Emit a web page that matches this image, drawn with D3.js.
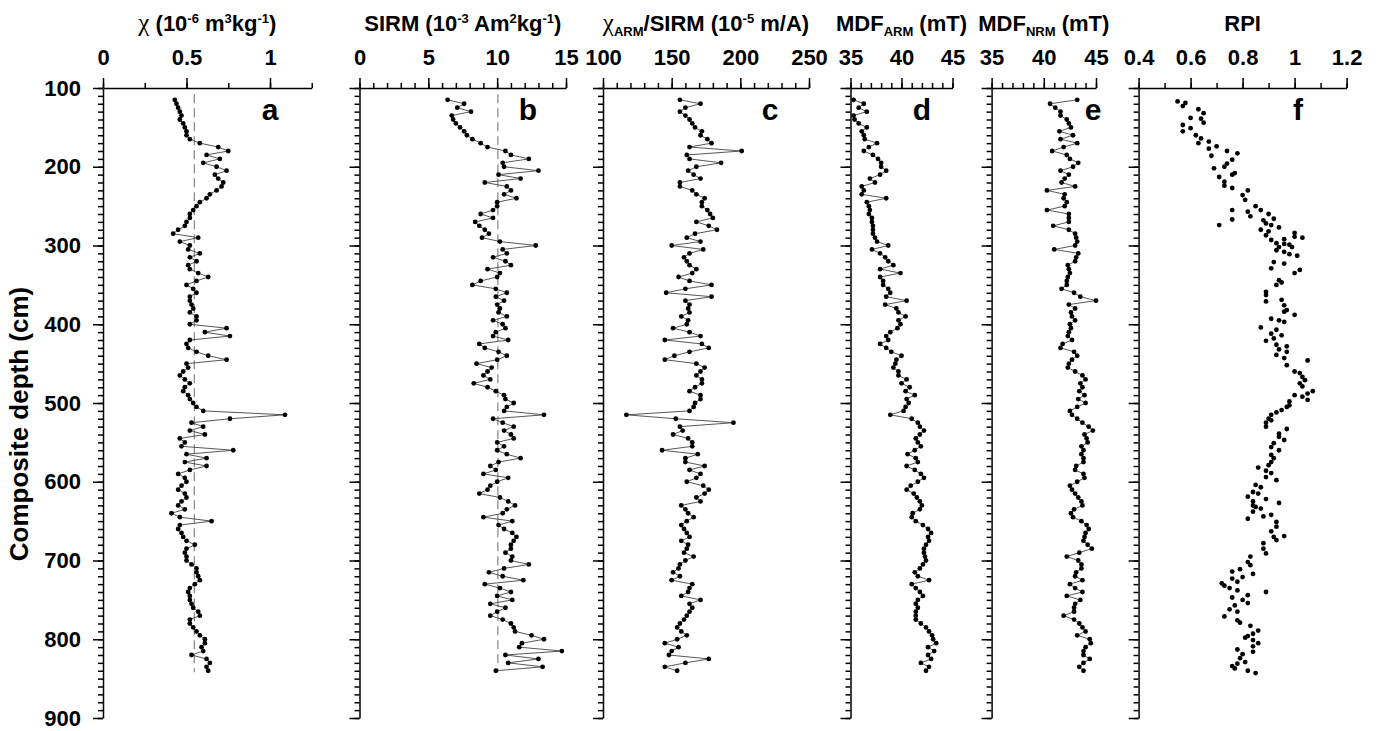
<!DOCTYPE html>
<html>
<head>
<meta charset="utf-8">
<script src="https://cdn.jsdelivr.net/npm/d3@7"></script>
<style>
body { margin: 0; background: #fff; }
svg text { font-family: "Liberation Sans", Arial, sans-serif; font-weight: bold; fill: #000; }
.axis path, .axis line { stroke: #000; stroke-width: 1.5; }
.axis text { font-size: 22px; font-weight: bold; }
.title { font-size: 22px; }
.panelLabel { font-size: 30px; }
.dataLine { fill: none; stroke: #444; stroke-width: 0.9; }
.meanLine { stroke: #8c8c8c; stroke-width: 1.3; stroke-dasharray: 9,5; }
</style>
</head>
<body>
<svg id="chart" width="1378" height="731"></svg>
<script>
// sample depths (cm) shared by panels a-e
var depth = [115,120,125,130,135,140,145,150,155,160,
	165,170,175,180,185,190,195,200,205,210,
	215,220,225,230,235,240,245,250,255,260,
	265,270,275,280,285,290,295,300,305,310,
	315,320,325,330,335,340,345,350,355,360,
	365,370,375,380,385,390,395,400,405,410,
	415,420,425,430,435,440,445,450,455,460,
	465,470,475,480,485,490,495,500,505,510,
	515,520,525,530,535,540,545,550,555,560,
	565,570,575,580,585,590,595,600,605,610,
	615,620,625,630,635,640,645,650,655,660,
	665,670,675,680,685,690,695,700,705,710,
	715,720,725,730,735,740,745,750,755,760,
	765,770,775,780,785,790,795,800,805,810,
	815,820,825,830,835,840];

var chi = [0.43,0.44,0.45,0.46,0.47,0.46,0.48,0.49,0.50,0.50,
	0.52,0.58,0.69,0.75,0.62,0.70,0.60,0.68,0.74,0.67,
	0.69,0.72,0.71,0.68,0.64,0.62,0.58,0.56,0.54,0.52,
	0.52,0.50,0.49,0.45,0.42,0.57,0.46,0.52,0.51,0.58,
	0.52,0.56,0.51,0.52,0.57,0.63,0.56,0.50,0.54,0.56,
	0.52,0.52,0.53,0.54,0.52,0.56,0.56,0.52,0.74,0.61,
	0.76,0.52,0.50,0.51,0.56,0.63,0.74,0.50,0.51,0.48,
	0.46,0.49,0.52,0.49,0.48,0.51,0.52,0.54,0.56,0.60,
	1.09,0.76,0.53,0.60,0.52,0.61,0.46,0.49,0.47,0.78,
	0.50,0.62,0.49,0.62,0.52,0.45,0.49,0.50,0.47,0.45,
	0.49,0.50,0.47,0.45,0.49,0.41,0.46,0.65,0.46,0.45,
	0.47,0.48,0.50,0.55,0.50,0.49,0.50,0.50,0.53,0.56,
	0.56,0.57,0.58,0.55,0.52,0.51,0.52,0.52,0.53,0.54,
	0.57,0.58,0.52,0.52,0.54,0.56,0.58,0.61,0.61,0.59,
	0.60,0.53,0.62,0.64,0.62,0.63];

var sirm = [6.4,7.6,7.1,8.1,6.7,6.8,7.0,7.3,7.6,7.8,
	8.2,8.8,9.3,10.6,11.0,12.3,10.4,10.5,13.0,10.1,
	11.7,9.1,10.7,11.0,10.5,11.4,10.0,10.0,9.7,8.8,
	9.7,8.4,8.7,9.1,9.4,8.9,10.2,12.8,10.4,10.7,
	9.7,10.6,11.0,9.3,10.2,10.0,8.8,8.2,9.9,10.7,
	9.9,10.5,10.0,10.2,10.1,10.7,9.7,10.4,10.6,9.9,
	9.7,10.8,8.7,9.1,10.1,10.7,10.0,8.5,9.6,9.3,
	9.0,9.5,8.3,9.3,9.9,10.5,10.6,11.2,10.7,10.5,
	13.4,9.7,10.4,11.2,10.5,11.0,11.2,10.0,10.5,10.0,
	10.7,11.7,10.1,9.5,9.9,9.0,10.8,10.0,9.5,9.3,
	8.7,10.2,10.8,11.3,10.7,10.4,9.0,11.1,10.1,10.5,
	11.1,11.4,11.2,11.0,11.0,10.6,11.1,11.0,12.3,10.5,
	9.4,10.4,11.9,9.1,10.2,11.0,10.0,11.1,9.5,10.6,
	10.0,9.5,10.4,11.0,11.2,11.3,12.5,13.4,11.8,11.6,
	14.7,10.6,13.0,10.8,13.3,9.9];

var chiArmSirm = [156,171,160,156,160,163,165,167,172,171,
	176,179,163,201,161,163,186,168,162,166,
	171,156,156,165,168,174,172,172,176,178,
	180,168,177,183,167,161,171,150,173,163,
	159,161,163,168,165,155,163,179,160,146,
	179,160,163,162,163,157,162,161,151,163,
	171,145,172,177,163,152,145,168,174,171,
	168,172,172,167,163,171,171,167,166,163,
	117,153,195,156,158,151,162,165,165,143,
	169,160,160,174,163,171,168,161,173,177,
	174,168,171,157,160,162,166,161,157,159,
	161,163,157,162,161,159,166,160,156,155,
	151,156,150,165,163,162,157,171,163,165,
	163,161,159,156,154,157,161,154,145,155,
	150,148,177,160,145,154];

var mdfArm = [35.3,36.3,35.8,36.6,35.3,35.4,35.8,36.6,36.1,36.3,
	36.4,37.6,36.8,36.3,37.2,37.7,38.0,38.0,38.5,37.9,
	36.9,37.4,36.1,36.3,36.1,38.5,36.6,36.8,36.9,36.8,
	37.1,37.1,37.2,37.2,37.2,37.4,37.6,38.7,37.1,37.9,
	38.4,38.7,39.2,37.9,39.9,37.9,38.2,38.2,38.7,38.9,
	38.5,40.5,38.4,39.5,39.7,40.4,39.7,39.9,39.6,38.9,
	38.5,38.7,37.9,38.5,39.0,40.0,39.5,39.4,39.2,39.7,
	39.7,40.5,40.0,40.8,40.4,41.3,40.5,40.7,40.4,40.2,
	38.9,41.0,41.6,41.8,42.2,41.8,41.4,41.6,41.9,41.3,
	40.6,41.4,41.6,40.5,41.3,41.9,42.2,41.6,40.9,40.5,
	41.2,41.5,41.8,42.0,41.8,41.1,41.0,41.4,42.1,42.6,
	42.9,42.6,42.7,42.4,42.2,42.2,42.3,42.4,42.1,41.8,
	41.3,41.6,42.7,41.0,41.4,41.8,42.1,41.6,41.4,41.6,
	41.4,41.4,41.4,41.9,42.4,42.7,43.0,43.1,43.4,42.6,
	43.2,42.6,42.9,41.9,42.7,42.4];

var mdfNrm = [43.2,40.6,41.1,41.6,41.6,42.2,42.4,42.6,41.5,42.8,
	41.6,43.2,41.9,40.8,42.2,42.5,43.3,42.8,41.6,42.4,
	42.0,41.7,43.0,40.3,42.0,41.9,42.2,42.0,40.3,42.4,
	42.4,42.4,40.9,42.4,43.0,43.1,43.2,43.0,41.0,43.3,
	43.1,43.0,42.3,42.4,42.5,42.3,42.2,42.2,41.7,42.9,
	43.5,45.0,42.4,43.0,42.6,42.7,43.0,42.5,42.6,42.4,
	42.3,42.7,41.8,41.6,42.9,43.2,42.7,42.4,42.3,43.0,
	43.7,44.0,43.5,43.7,43.4,43.9,43.3,44.0,43.2,42.5,
	42.7,43.2,43.7,44.3,44.7,43.9,44.1,44.2,43.6,43.8,
	43.6,43.8,43.8,43.1,43.0,43.8,43.9,43.2,42.5,42.7,
	43.0,43.3,43.6,43.7,42.9,42.6,42.8,43.6,44.1,44.3,
	44.0,43.9,43.8,44.2,44.6,43.4,42.2,43.3,43.6,43.6,
	43.1,43.0,43.7,42.5,43.0,43.7,42.2,43.5,43.0,42.9,
	42.9,41.9,42.9,43.4,43.7,44.0,43.2,44.4,44.5,44.0,
	43.8,43.8,44.4,43.8,43.4,43.8];

// RPI is plotted as a scatter at its own depths
var rpiDepth = [117,119,123,127,132,138,139,144,147,151,
	155,160,164,168,170,174,177,180,183,186,
	191,196,200,202,208,210,213,219,224,227,
	230,236,242,250,255,255,257,260,263,266,
	267,268,272,274,274,277,280,282,284,287,
	289,290,292,293,297,298,299,302,302,306,
	308,311,313,321,323,329,331,335,344,347,
	350,359,363,369,371,376,382,384,388,393,
	395,397,404,407,412,414,418,421,426,428,
	432,435,439,443,446,452,460,462,467,471,
	475,479,485,488,490,492,496,498,503,505,
	509,512,515,520,522,525,530,533,539,543,
	547,551,556,560,566,570,575,579,582,586,
	589,594,598,604,607,613,615,619,622,625,
	627,630,632,634,638,642,644,647,651,657,
	663,669,670,674,678,685,691,695,702,706,
	711,714,717,721,723,727,729,732,735,738,
	740,744,747,750,754,757,762,765,771,776,
	779,783,789,793,796,798,801,805,809,813,
	816,819,824,829,831,834,837,840,843];

var rpi = [0.55,0.58,0.57,0.63,0.65,0.60,0.64,0.65,0.57,0.60,
	0.57,0.62,0.64,0.67,0.63,0.70,0.67,0.74,0.78,0.68,
	0.76,0.74,0.73,0.69,0.77,0.76,0.71,0.73,0.73,0.76,
	0.82,0.80,0.81,0.85,0.87,0.76,0.82,0.90,0.83,0.92,
	0.76,0.88,0.89,0.91,0.71,0.94,0.87,0.90,1.00,0.89,
	1.00,1.03,0.96,0.91,0.93,0.96,0.98,0.94,0.99,0.93,
	0.96,0.98,1.01,0.92,0.96,0.91,1.02,1.00,0.94,0.95,
	0.93,0.89,0.89,0.95,0.89,0.96,0.97,0.96,1.00,0.91,
	0.94,0.96,0.87,0.93,0.91,0.95,0.92,0.89,0.93,0.97,
	0.94,0.97,0.93,0.96,1.05,0.97,1.00,1.02,1.03,1.04,
	1.02,1.03,1.07,1.05,1.00,1.03,1.05,0.98,0.98,0.97,
	0.95,0.93,0.91,0.90,0.91,0.89,0.89,0.97,0.94,0.94,
	0.96,0.92,0.91,0.94,0.91,0.92,0.91,0.90,0.86,0.89,
	0.91,0.89,0.93,0.85,0.87,0.84,0.86,0.82,0.89,0.84,
	0.94,0.84,0.85,0.87,0.84,0.91,0.88,0.82,0.93,0.93,
	0.91,0.96,0.92,0.93,0.88,0.88,0.89,0.83,0.82,0.83,
	0.79,0.76,0.84,0.80,0.76,0.78,0.72,0.73,0.75,0.78,
	0.89,0.82,0.76,0.80,0.82,0.77,0.75,0.78,0.73,0.78,
	0.79,0.83,0.86,0.84,0.82,0.81,0.84,0.86,0.84,0.78,
	0.84,0.80,0.79,0.81,0.78,0.76,0.77,0.82,0.85];

// mean values drawn as dashed reference lines
var chiMean = 0.547;
var sirmMean = 10.05;

var chiTicks = [0, 0.5, 1];
var sirmTicks = [0, 5, 10, 15];
var ratioTicks = [100, 150, 200, 250];
var mdfTicks = [35, 40, 45];
var rpiTicks = [0.4, 0.6, 0.8, 1, 1.2];
var depthTicks = [100, 200, 300, 400, 500, 600, 700, 800, 900];

var svg = d3.select("#chart");
var yScale = d3.scaleLinear().domain([100, 900]).range([88, 718]);

var panels = [
	{label: "a", values: chi, depths: depth, domain: [0, 1.25], left: 103, right: 311.75,
	 ticks: chiTicks, minorStep: 0.25, line: true, mean: chiMean, letterX: 270,
	 title: [["\u03c7", "chi"], [" (10", ""], ["-6", "sup"], [" m", ""], ["3", "sup"], ["kg", ""], ["-1", "sup"], [")", ""]]},
	{label: "b", values: sirm, depths: depth, domain: [0, 15], left: 359.5, right: 566,
	 ticks: sirmTicks, minorStep: 1, line: true, mean: sirmMean, letterX: 528,
	 title: [["SIRM (10", ""], ["-3", "sup"], [" Am", ""], ["2", "sup"], ["kg", ""], ["-1", "sup"], [")", ""]]},
	{label: "c", values: chiArmSirm, depths: depth, domain: [100, 250], left: 603, right: 809,
	 ticks: ratioTicks, minorStep: 10, line: true, mean: null, letterX: 770,
	 title: [["\u03c7", "chi"], ["ARM", "sub"], ["/SIRM (10", ""], ["-5", "sup"], [" m/A)", ""]]},
	{label: "d", values: mdfArm, depths: depth, domain: [35, 45], left: 850.5, right: 952.5,
	 ticks: mdfTicks, minorStep: 1, line: true, mean: null, letterX: 922,
	 title: [["MDF", ""], ["ARM", "sub"], [" (mT)", ""]]},
	{label: "e", values: mdfNrm, depths: depth, domain: [35, 45], left: 991.6, right: 1096,
	 ticks: mdfTicks, minorStep: 1, line: true, mean: null, letterX: 1093,
	 title: [["MDF", ""], ["NRM", "sub"], [" (mT)", ""]]},
	{label: "f", values: rpi, depths: rpiDepth, domain: [0.4, 1.2], left: 1138.6, right: 1346.6,
	 ticks: rpiTicks, minorStep: 0.1, line: false, mean: null, letterX: 1298,
	 title: [["RPI", ""]]}
];

panels.forEach(function(p, i) { drawPanel(p, i === 0); });

// y axis title
svg.append("text")
	.attr("class", "title")
	.attr("transform", "translate(28,424) rotate(-90)")
	.attr("text-anchor", "middle")
	.style("font-size", "26px")
	.text("Composite depth (cm)");

function drawPanel(p, showDepthLabels) {
	var xScale = d3.scaleLinear().domain(p.domain).range([p.left, p.right]);
	var g = svg.append("g");

	var minor = d3.range(p.domain[0], p.domain[1] + p.minorStep / 2, p.minorStep);
	var depthMinor = d3.range(100, 901, 10);

	// top axis: minor ticks then labelled majors
	g.append("g")
		.attr("class", "axis")
		.attr("transform", "translate(0," + yScale(100) + ")")
		.call(d3.axisTop(xScale).tickValues(minor).tickSize(5).tickSizeOuter(0).tickFormat(""))
		.select(".domain").remove();

	g.append("g")
		.attr("class", "axis")
		.attr("transform", "translate(0," + yScale(100) + ")")
		.call(d3.axisTop(xScale).tickValues(p.ticks).tickSize(10).tickSizeOuter(0).tickPadding(13)
			.tickFormat(function(d) { return d; }));

	// left depth axis
	g.append("g")
		.attr("class", "axis")
		.attr("transform", "translate(" + p.left + ",0)")
		.call(d3.axisLeft(yScale).tickValues(depthMinor).tickSize(5).tickSizeOuter(0).tickFormat(""))
		.select(".domain").remove();

	g.append("g")
		.attr("class", "axis")
		.attr("transform", "translate(" + p.left + ",0)")
		.call(d3.axisLeft(yScale).tickValues(depthTicks).tickSize(10).tickSizeOuter(0).tickPadding(12)
			.tickFormat(showDepthLabels ? function(d) { return d; } : ""));

	g.selectAll(".axis text")
		.attr("font-family", null)
		.attr("font-size", null);

	// mean value
	if (p.mean !== null) {
		g.append("line")
			.attr("class", "meanLine")
			.attr("x1", xScale(p.mean))
			.attr("x2", xScale(p.mean))
			.attr("y1", yScale(108))
			.attr("y2", yScale(842));
	}

	if (p.line) {
		var line = d3.line()
			.x(function(d) { return xScale(d); })
			.y(function(d, j) { return yScale(p.depths[j]); });

		g.append("path")
			.datum(p.values)
			.attr("class", "dataLine")
			.attr("d", line);
	}

	g.selectAll(".dot")
		.data(p.values)
		.enter()
		.append("circle")
		.attr("class", "dot")
		.attr("cx", function(d) { return xScale(d); })
		.attr("cy", function(d, j) { return yScale(p.depths[j]); })
		.attr("r", 2.4)
		.style("fill", "#000");

	g.append("text")
		.attr("class", "panelLabel")
		.attr("x", p.letterX)
		.attr("y", 120)
		.attr("text-anchor", "middle")
		.text(p.label);

	drawTitle(g, (p.left + p.right) / 2, p.title);
}

function drawTitle(g, cx, parts) {
	var t = g.append("text")
		.attr("class", "title")
		.attr("x", cx)
		.attr("y", 31)
		.attr("text-anchor", "middle");

	var shift = 0;
	parts.forEach(function(part) {
		var target = part[1] === "sup" ? -8 : (part[1] === "sub" ? 5 : 0);
		var ts = t.append("tspan")
			.attr("dy", target - shift)
			.text(part[0]);
		shift = target;

		if (part[1] === "sup" || part[1] === "sub") {
			ts.style("font-size", "13px");
		}
		else if (part[1] === "chi") {
			ts.style("font-family", "'Liberation Serif', serif")
				.style("font-weight", "normal")
				.style("font-size", "25px");
		}
	});
}
</script>
</body>
</html>
